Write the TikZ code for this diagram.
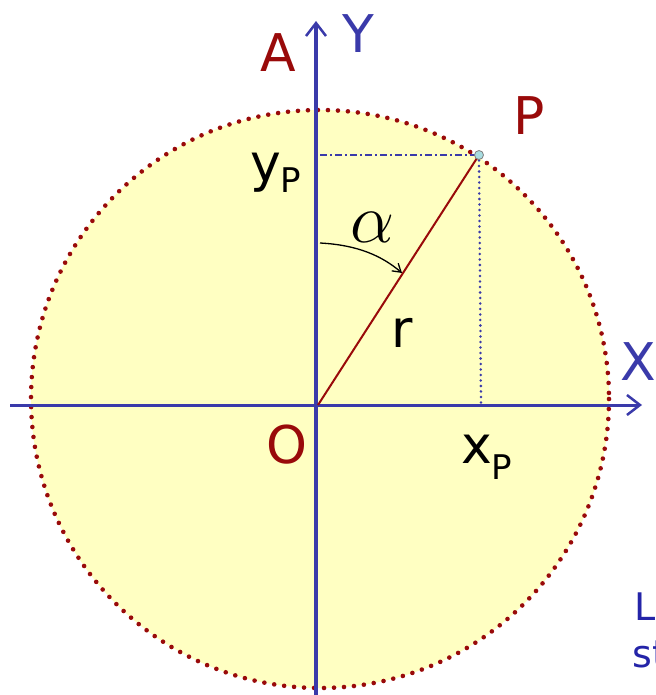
\RequirePackage{fix-cm}
\documentclass[tikz,border=0pt]{standalone}
\usepackage{fontspec}
\setmainfont{DejaVu Sans}
\usetikzlibrary{arrows.meta,positioning,calc}
\definecolor{axblue}{HTML}{3A3AAA}
\definecolor{txblue}{HTML}{2424A8}
\definecolor{ptred}{HTML}{990A0A}
\definecolor{discfill}{HTML}{FFFFC2}
\definecolor{dotcyan}{HTML}{A8DCE0}

\begin{document}
\begin{tikzpicture}[
  x=1pt, y=-1pt,
  axis/.style={draw=axblue, -{Straight Barb[length=13pt,width=20pt,line width=2.5pt]}},
  big/.style={inner sep=0pt, anchor=base west, font=\fontsize{52}{56}\selectfont},
  guide/.style={draw=axblue, line width=1.8pt},
  radius line/.style={draw=ptred, line width=2pt}
]
\useasboundingbox (0,0) rectangle (655,695);
\clip (0,0) rectangle (655,695);

% disc
\fill[discfill] (320,399) circle[radius=289];
\draw[ptred, line width=4.6pt, line cap=round, dash pattern=on 0pt off 10pt] (320,399) circle[radius=289];

% named points
\coordinate (O) at (318,405);
\coordinate (P) at (479,155);
\coordinate (yfoot) at (320,155);
\coordinate (xfoot) at (481,405);
\coordinate (xstart) at (10,405);
\coordinate (xend) at (642,405);
\coordinate (ystart) at (316,695);
\coordinate (yend) at (316,21);

% projections
\draw[guide, dash pattern=on 7pt off 3pt on 2pt off 3pt] (yfoot) -- (P);
\draw[guide, line width=2.8pt, line cap=round, dash pattern=on 0pt off 5.5pt] (P) -- (xfoot);

% axes
\draw[axis, line width=3pt] (xstart) -- (xend);
\draw[axis, line width=4pt] (ystart) -- (yend);

% radius
\draw[radius line] (O) -- (P);
\node[circle, draw=gray, fill=dotcyan, line width=0.8pt, minimum size=9pt, inner sep=0pt] (Pdot) at (P) {};

% angle
\coordinate (astart) at (320,243);
\coordinate (aend) at (402,273);
\draw[line width=1.3pt, -{Straight Barb[length=8pt,width=10pt,line width=1.3pt]}]
  (astart) .. controls (358,245) and (382,256) .. (aend);

% labels
\node[big, text=ptred] (lA) at (260,72) {A};
\node[big, text=axblue] (lY) at (342,53) {Y};
\node[big, text=ptred] (lP) at (513,135) {P};
\node[big, text=axblue] (lX) at (620,380) {X};
\node[big, text=ptred] (lO) at (266,463) {O};
\node[big] (lr) at (391,347) {r};
\node[big] (lyP) at (250,181) {y\raisebox{-11pt}{\fontsize{34}{36}\selectfont P}};
\node[big] (lxP) at (461,463) {x\raisebox{-16pt}{\fontsize{34}{36}\selectfont P}};
\node[inner sep=0pt, anchor=base west, font=\fontsize{70}{74}\selectfont] (lalpha) at (350,242) {$\alpha$};
\node[inner sep=0pt, anchor=base west, text=txblue, font=\fontsize{38}{40}\selectfont] (lL) at (634,620) {L};
\node[inner sep=0pt, anchor=base west, text=txblue, font=\fontsize{38}{40}\selectfont] (lst) at (632,667) {st};
\end{tikzpicture}
\end{document}
